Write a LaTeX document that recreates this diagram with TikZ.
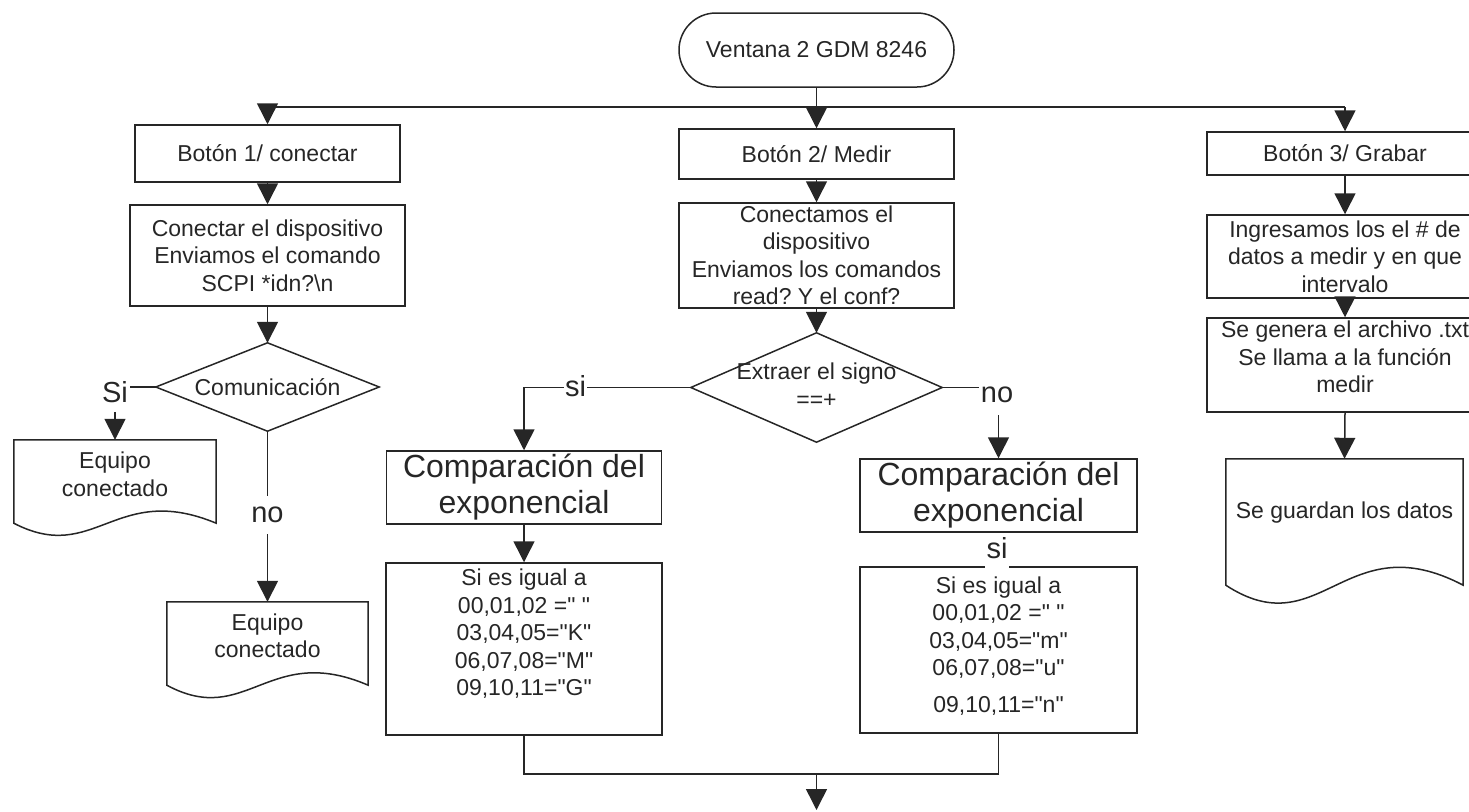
\documentclass[tikz,border=0pt]{standalone}
\usepackage{fontspec}
\setmainfont{Liberation Sans}[Ligatures=TeXOff]
\usetikzlibrary{arrows.meta}
\frenchspacing
\newcommand\fntN{\fontsize{23}{27.5}\selectfont}
\newcommand\fntL{\fontsize{29}{34}\selectfont}
\newcommand\fntB{\fontsize{32}{36}\selectfont}
\begin{document}
\begin{tikzpicture}[x=1pt,y=-1pt,
  every node/.style={text=black!85, align=center, inner sep=0pt, font=\fntN},
  ln/.style={line width=1.5pt, draw=black!85},
  arr/.style={ln, -{Triangle[width=21pt,length=21pt]}},
  box/.style={draw=black!85, line width=1.5pt, rectangle},
  shp/.style={rectangle, draw=none},
  txt/.style={},
  lbl/.style={font=\fntL}
]
\useasboundingbox (0,0) rectangle (1469,811);

% top
\node[box, rounded corners=37pt, minimum width=275pt, minimum height=74pt] (start) at (816.5,50) {Ventana 2 GDM 8246};
\coordinate (busL) at (267.5,107);
\coordinate (busR) at (1345,107);

% left column
\node[box, minimum width=265pt, minimum height=57pt] (b1) at (267.5,153.5) {Botón 1/ conectar};
\node[box, minimum width=275pt, minimum height=101pt] (c1) at (267.5,255.5) {Conectar el dispositivo\\Enviamos el comando\\SCPI *idn?\textbackslash n};
\node[shp, minimum width=223pt, minimum height=88pt] (dc) at (267.5,387) {Comunicación};
\node[lbl, inner xsep=2pt, inner ysep=9pt] (siL) at (115,392) {Si};
\node[shp, minimum width=202pt, minimum height=83pt] (doc1) at (115,481.5) {};
\node[txt] (doc1t) at (115,474.5) {Equipo\\conectado};
\node[lbl, inner xsep=2pt, inner ysep=11pt] (noL) at (267.5,515) {no};
\node[shp, minimum width=201pt, minimum height=83pt] (doc2) at (267.5,643.5) {};
\node[txt] (doc2t) at (267.5,636) {Equipo\\conectado};

% middle column
\node[box, minimum width=275pt, minimum height=50pt] (b2) at (816.5,154) {Botón 2/ Medir};
\node[box, minimum width=275pt, minimum height=105pt] (c2) at (816.5,255.5) {Conectamos el\\dispositivo\\Enviamos los comandos\\read? Y el conf?};
\node[shp, minimum width=251pt, minimum height=109pt] (de) at (816.5,387.5) {};
\node[txt] (det) at (816.5,385) {Extraer el signo\\==+};
\node[lbl, inner xsep=1pt] (siM) at (575.5,386) {si};
\node[box, font=\fntB, minimum width=275pt, minimum height=73pt] (cmpL) at (524,487.5) {Comparación del\\exponencial};
\node[box, minimum width=276pt, minimum height=172pt] (ifL) at (524,649) {};
\node[txt] (ifLt) at (524,634) {Si es igual a\\00,01,02 =" "\\03,04,05="K"\\06,07,08="M"\\09,10,11="G"};

\node[lbl, inner xsep=2pt, inner ysep=12pt] (noR) at (997,395) {no};
\node[box, font=\fntB, minimum width=277pt, minimum height=73pt] (cmpR) at (998.5,495.5) {Comparación del\\exponencial};
\node[box, minimum width=277pt, minimum height=166pt] (ifR) at (998.5,650) {};
\node[txt] (ifRt) at (998.5,646) {Si es igual a\\00,01,02 =" "\\03,04,05="m"\\06,07,08="u"\\[9pt]09,10,11="n"};
\node[lbl, fill=white, text height=15pt, text depth=12pt, inner ysep=0pt, inner xsep=2pt, anchor=base] (siR) at (997,558) {si};

% right column
\node[box, minimum width=276pt, minimum height=43pt] (b3) at (1345,153.5) {Botón 3/ Grabar};
\node[box, minimum width=276pt, minimum height=83pt] (i3) at (1345,256.5) {Ingresamos los el \# de\\datos a medir y en que\\intervalo};
\node[box, minimum width=276pt, minimum height=94pt] (g3) at (1345,365) {};
\node[txt] (g3t) at (1345,357) {Se genera el archivo .txt\\Se llama a la función\\medir};
\node[shp, minimum width=237pt, minimum height=126pt] (doc3) at (1344.5,522) {};
\node[txt] (doc3t) at (1344.5,513) {Se guardan los datos};

\coordinate (join) at (816.5,774);
\coordinate (endp) at (816.5,810);

% shapes
\draw[ln] (dc.north) -- (dc.east) -- (dc.south) -- (dc.west) -- cycle;
\draw[ln] (de.north) -- (de.east) -- (de.south) -- (de.west) -- cycle;
\draw[ln] (doc1.north east) -- (doc1.north west) -- (doc1.south west) .. controls +(81,42) and +(-101,-42) .. (doc1.south east) -- cycle;
\draw[ln] (doc2.north east) -- (doc2.north west) -- (doc2.south west) .. controls +(80,43) and +(-100,-43) .. (doc2.south east) -- cycle;
\draw[ln] (doc3.north east) -- (doc3.north west) -- (doc3.south west) .. controls +(95,62) and +(-118,-62) .. (doc3.south east) -- cycle;

% connectors
\draw[ln] (busL) -- (busR);
\draw[arr] (start.south) -- (b2.north);
\draw[arr] (busL) -- (b1.north);
\draw[arr] (busR) -- (b3.north);
\draw[arr] (b1.south) -- (c1.north);
\draw[arr] (c1.south) -- (dc.north);
\draw[ln] (dc.west) -- (dc.west -| siL.east);
\draw[arr] (siL.south) -- (doc1.north);
\draw[ln] (dc.south) -- (noL.north);
\draw[arr] (noL.south) -- (doc2.north);

\draw[arr] (b2.south) -- (c2.north);
\draw[arr] (c2.south) -- (de.north);
\draw[ln] (de.west) -- (de.west -| siM.east);
\draw[arr] (de.west -| siM.west) -| (cmpL.north);
\draw[arr] (cmpL.south) -- (ifL.north);
\draw[ln] (de.east) -- (de.east -| noR.west);
\draw[arr] (noR.south -| cmpR.north) -- (cmpR.north);
\draw[ln] (ifL.south) -- (ifL.south |- join) -- (join);
\draw[ln] (ifR.south) -- (ifR.south |- join) -- (join);
\draw[arr] (join) -- (endp);

\draw[arr] (b3.south) -- (i3.north);
\draw[arr] (i3.south) -- (g3.north);
\draw[arr] (g3.south) -- (doc3.north);
\end{tikzpicture}
\end{document}
